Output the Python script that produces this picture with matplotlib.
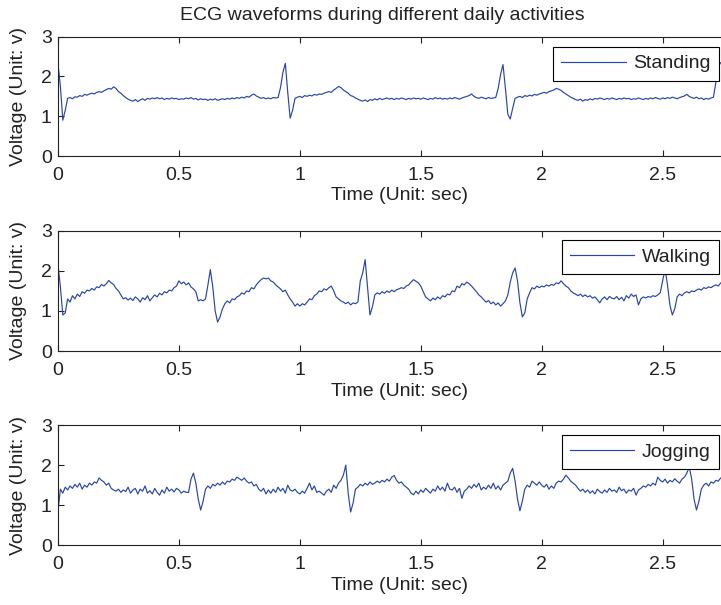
import numpy as np
import matplotlib.pyplot as plt

plt.switch_backend('Agg')

# Sample spacing of the recorded signals (seconds)
SAMPLE_DT = 0.01

# Voltage samples, one value every 0.01 s (0 .. 2.75 s)
standing = [
    2.33, 1.75, 0.90, 1.15, 1.45, 1.47, 1.44, 1.49, 1.48, 1.52,
    1.50, 1.55, 1.53, 1.56, 1.58, 1.56, 1.60, 1.62, 1.60, 1.64,
    1.67, 1.70, 1.68, 1.74, 1.70, 1.62, 1.58, 1.52, 1.47, 1.43,
    1.40, 1.38, 1.42, 1.37, 1.41, 1.44, 1.40, 1.45, 1.43, 1.46,
    1.44, 1.47, 1.44, 1.46, 1.42, 1.45, 1.43, 1.46, 1.44, 1.45,
    1.42, 1.44, 1.43, 1.46, 1.44, 1.47, 1.43, 1.45, 1.41, 1.44,
    1.42, 1.43, 1.40, 1.43, 1.41, 1.44, 1.40, 1.42, 1.44, 1.42,
    1.45, 1.43, 1.46, 1.44, 1.47, 1.45, 1.48, 1.46, 1.50, 1.48,
    1.53, 1.56, 1.51, 1.48, 1.45, 1.47, 1.44, 1.46, 1.44, 1.47,
    1.46, 1.47, 1.72, 2.10, 2.33, 1.60, 0.95, 1.15, 1.45, 1.48,
    1.50, 1.47, 1.52, 1.50, 1.53, 1.51, 1.55, 1.53, 1.56, 1.55,
    1.58, 1.60, 1.62, 1.60, 1.66, 1.70, 1.75, 1.72, 1.66, 1.62,
    1.58, 1.52, 1.50, 1.46, 1.43, 1.40, 1.38, 1.41, 1.37, 1.42,
    1.40, 1.44, 1.41, 1.45, 1.42, 1.44, 1.46, 1.43, 1.45, 1.42,
    1.45, 1.43, 1.46, 1.44, 1.42, 1.45, 1.43, 1.46, 1.44, 1.45,
    1.43, 1.46, 1.44, 1.42, 1.45, 1.43, 1.47, 1.44, 1.46, 1.43,
    1.45, 1.43, 1.46, 1.44, 1.47, 1.45, 1.43, 1.46, 1.48, 1.50,
    1.52, 1.56, 1.50, 1.47, 1.45, 1.48, 1.46, 1.44, 1.47, 1.45,
    1.46, 1.47, 1.70, 2.05, 2.30, 1.70, 1.05, 0.93, 1.20, 1.45,
    1.48, 1.50, 1.47, 1.52, 1.50, 1.53, 1.51, 1.55, 1.53, 1.56,
    1.58, 1.60, 1.58, 1.62, 1.64, 1.66, 1.70, 1.68, 1.65, 1.60,
    1.56, 1.52, 1.48, 1.45, 1.42, 1.40, 1.43, 1.38, 1.42, 1.40,
    1.44, 1.41, 1.45, 1.43, 1.46, 1.44, 1.42, 1.45, 1.43, 1.46,
    1.44, 1.42, 1.45, 1.43, 1.46, 1.44, 1.45, 1.42, 1.44, 1.43,
    1.46, 1.44, 1.42, 1.45, 1.43, 1.46, 1.44, 1.47, 1.45, 1.43,
    1.46, 1.44, 1.47, 1.45, 1.48, 1.46, 1.44, 1.47, 1.49, 1.51,
    1.55, 1.50, 1.47, 1.45, 1.48, 1.44, 1.46, 1.42, 1.45, 1.43,
    1.46, 1.48, 1.85, 2.25, 2.35, 2.30,
]

walking = [
    2.15, 1.60, 0.90, 0.95, 1.30, 1.22, 1.38, 1.30, 1.42, 1.36,
    1.48, 1.44, 1.52, 1.50, 1.56, 1.52, 1.60, 1.58, 1.66, 1.62,
    1.68, 1.76, 1.70, 1.66, 1.56, 1.50, 1.40, 1.30, 1.33, 1.27,
    1.32, 1.26, 1.35, 1.30, 1.22, 1.33, 1.28, 1.38, 1.25, 1.33,
    1.40, 1.35, 1.44, 1.40, 1.48, 1.45, 1.52, 1.50, 1.58, 1.62,
    1.75, 1.68, 1.72, 1.65, 1.70, 1.60, 1.55, 1.48, 1.25, 1.28,
    1.25, 1.30, 1.65, 2.03, 1.60, 1.00, 0.72, 0.85, 1.05, 1.18,
    1.25, 1.20, 1.30, 1.28, 1.35, 1.38, 1.45, 1.42, 1.50, 1.48,
    1.58, 1.55, 1.65, 1.72, 1.78, 1.82, 1.80, 1.82, 1.75, 1.72,
    1.65, 1.60, 1.55, 1.48, 1.52, 1.40, 1.30, 1.22, 1.12, 1.18,
    1.12, 1.18, 1.15, 1.22, 1.30, 1.28, 1.38, 1.42, 1.50, 1.48,
    1.55, 1.52, 1.58, 1.62, 1.50, 1.35, 1.30, 1.25, 1.22, 1.18,
    1.22, 1.15, 1.20, 1.18, 1.22, 1.75, 1.95, 2.28, 1.60, 0.90,
    1.10, 1.40, 1.45, 1.42, 1.48, 1.44, 1.50, 1.46, 1.52, 1.48,
    1.53, 1.55, 1.58, 1.56, 1.62, 1.65, 1.72, 1.78, 1.74, 1.70,
    1.62, 1.48, 1.35, 1.30, 1.25, 1.32, 1.28, 1.35, 1.30, 1.38,
    1.35, 1.42, 1.40, 1.50, 1.48, 1.62, 1.58, 1.68, 1.65, 1.72,
    1.68, 1.62, 1.55, 1.48, 1.40, 1.35, 1.28, 1.22, 1.26, 1.18,
    1.22, 1.15, 1.20, 1.12, 1.18, 1.25, 1.40, 1.72, 1.95, 2.07,
    1.75, 1.20, 0.85, 0.95, 1.30, 1.45, 1.58, 1.55, 1.62, 1.58,
    1.62, 1.60, 1.65, 1.62, 1.66, 1.64, 1.70, 1.68, 1.75, 1.68,
    1.62, 1.58, 1.50, 1.45, 1.42, 1.38, 1.42, 1.36, 1.40, 1.35,
    1.38, 1.32, 1.35, 1.28, 1.20, 1.30, 1.35, 1.28, 1.36, 1.32,
    1.30, 1.36, 1.28, 1.34, 1.25, 1.38, 1.32, 1.42, 1.36, 1.40,
    1.15, 1.30, 1.35, 1.32, 1.36, 1.34, 1.38, 1.36, 1.40, 1.45,
    1.75, 2.05, 1.65, 1.15, 0.90, 1.05, 1.35, 1.42, 1.38, 1.45,
    1.48, 1.45, 1.50, 1.48, 1.52, 1.55, 1.52, 1.58, 1.56, 1.60,
    1.58, 1.62, 1.65, 1.62, 1.70, 1.68,
]

jogging = [
    0.85, 1.40, 1.30, 1.45, 1.38, 1.48, 1.42, 1.52, 1.45, 1.55,
    1.40, 1.50, 1.45, 1.55, 1.50, 1.58, 1.55, 1.68, 1.62, 1.58,
    1.50, 1.55, 1.42, 1.38, 1.35, 1.40, 1.32, 1.38, 1.34, 1.45,
    1.30, 1.38, 1.42, 1.28, 1.40, 1.35, 1.48, 1.30, 1.36, 1.28,
    1.42, 1.32, 1.25, 1.38, 1.30, 1.45, 1.35, 1.40, 1.33, 1.42,
    1.38, 1.30, 1.35, 1.32, 1.32, 1.65, 1.80, 1.55, 1.15, 0.88,
    1.10, 1.40, 1.48, 1.42, 1.52, 1.48, 1.55, 1.50, 1.58, 1.52,
    1.60, 1.58, 1.65, 1.62, 1.70, 1.66, 1.62, 1.68, 1.60, 1.55,
    1.58, 1.48, 1.52, 1.40, 1.35, 1.42, 1.28, 1.38, 1.30, 1.40,
    1.32, 1.45, 1.35, 1.42, 1.30, 1.50, 1.38, 1.35, 1.40, 1.32,
    1.28, 1.35, 1.30, 1.42, 1.55, 1.38, 1.48, 1.32, 1.35, 1.30,
    1.25, 1.35, 1.40, 1.32, 1.50, 1.42, 1.55, 1.62, 1.75, 2.00,
    1.30, 0.83, 1.05, 1.40, 1.45, 1.52, 1.48, 1.55, 1.50, 1.58,
    1.52, 1.55, 1.60, 1.56, 1.62, 1.58, 1.65, 1.60, 1.70, 1.74,
    1.62, 1.55, 1.58, 1.50, 1.45, 1.40, 1.30, 1.26, 1.35, 1.28,
    1.38, 1.32, 1.42, 1.36, 1.30, 1.40, 1.35, 1.48, 1.38, 1.45,
    1.35, 1.55, 1.40, 1.38, 1.45, 1.32, 1.42, 1.17, 1.35, 1.40,
    1.48, 1.42, 1.52, 1.45, 1.55, 1.38, 1.45, 1.40, 1.50, 1.42,
    1.55, 1.40, 1.48, 1.38, 1.50, 1.55, 1.60, 1.80, 1.92, 1.60,
    1.15, 0.86, 1.10, 1.40, 1.50, 1.45, 1.60, 1.55, 1.50, 1.58,
    1.50, 1.45, 1.52, 1.40, 1.48, 1.42, 1.55, 1.60, 1.58, 1.65,
    1.75, 1.68, 1.60, 1.55, 1.50, 1.42, 1.35, 1.40, 1.32, 1.38,
    1.30, 1.36, 1.28, 1.40, 1.34, 1.30, 1.38, 1.32, 1.42, 1.35,
    1.38, 1.32, 1.45, 1.36, 1.40, 1.30, 1.38, 1.35, 1.42, 1.25,
    1.38, 1.42, 1.48, 1.45, 1.52, 1.48, 1.55, 1.50, 1.70, 1.62,
    1.58, 1.65, 1.55, 1.62, 1.58, 1.66, 1.60, 1.55, 1.65, 1.70,
    1.80, 1.96, 1.65, 1.15, 0.88, 1.10, 1.40, 1.50, 1.55, 1.48,
    1.58, 1.55, 1.62, 1.60, 1.68, 1.65,
]

activities = ['Standing', 'Walking', 'Jogging']
x_ticks = [0, 0.5, 1, 1.5, 2, 2.5]
x_tick_labels = ['0', '0.5', '1', '1.5', '2', '2.5']
y_ticks = [0, 1, 2, 3]

plt.rcParams['font.family'] = ['Liberation Sans', 'DejaVu Sans']
text_color = '#222222'
line_color = '#2846a8'
font_size = 14

fig = plt.figure(figsize=(7.21, 6.05), dpi=100)

# Axes layout (figure fractions); right edge runs past the image like the original
bottoms = [0.7421, 0.4198, 0.0987]
heights = [0.1972, 0.1988, 0.1988]
legend_tops = [0.9228, 0.6033, 0.2810]

for i, (name, values) in enumerate(zip(activities, [standing, walking, jogging])):
    ax = fig.add_axes([0.0804, bottoms[i], 0.946, heights[i]])
    t = np.arange(len(values)) * SAMPLE_DT
    ax.plot(t, values, color=line_color, lw=0.85, label=name)

    ax.set_xlim(0, 2.82)
    ax.set_ylim(0, 3)
    ax.set_xticks(x_ticks)
    ax.set_xticklabels(x_tick_labels)
    ax.set_yticks(y_ticks)
    ax.tick_params(direction='in', top=True, right=True, length=4.3, width=0.8,
                   labelsize=font_size, colors=text_color)
    ax.tick_params(axis='x', pad=8.0)
    ax.tick_params(axis='y', pad=4.5)
    for spine in ax.spines.values():
        spine.set_color(text_color)
        spine.set_linewidth(0.8)

    ax.set_xlabel('Time (Unit: sec)', fontsize=font_size, color=text_color)
    ax.set_ylabel('Voltage (Unit: v)', fontsize=font_size, color=text_color)
    ax.xaxis.set_label_coords(0.501, -0.262)
    ax.yaxis.set_label_coords(-0.0447, 0.5)

    legend = ax.legend(loc='upper right', bbox_to_anchor=(719 / 721, legend_tops[i]),
                       bbox_transform=fig.transFigure, fontsize=font_size,
                       handlelength=3.3, handletextpad=0.4, borderpad=0.42,
                       borderaxespad=0, fancybox=False, framealpha=1)
    legend.get_frame().set_edgecolor('black')
    legend.get_frame().set_linewidth(0.8)
    for txt in legend.get_texts():
        txt.set_color(text_color)

fig.text(382 / 721, 1 - 19.5 / 605, 'ECG waveforms during different daily activities',
         ha='center', va='baseline', fontsize=font_size, color=text_color)

fig.savefig('out.png', dpi=100)
